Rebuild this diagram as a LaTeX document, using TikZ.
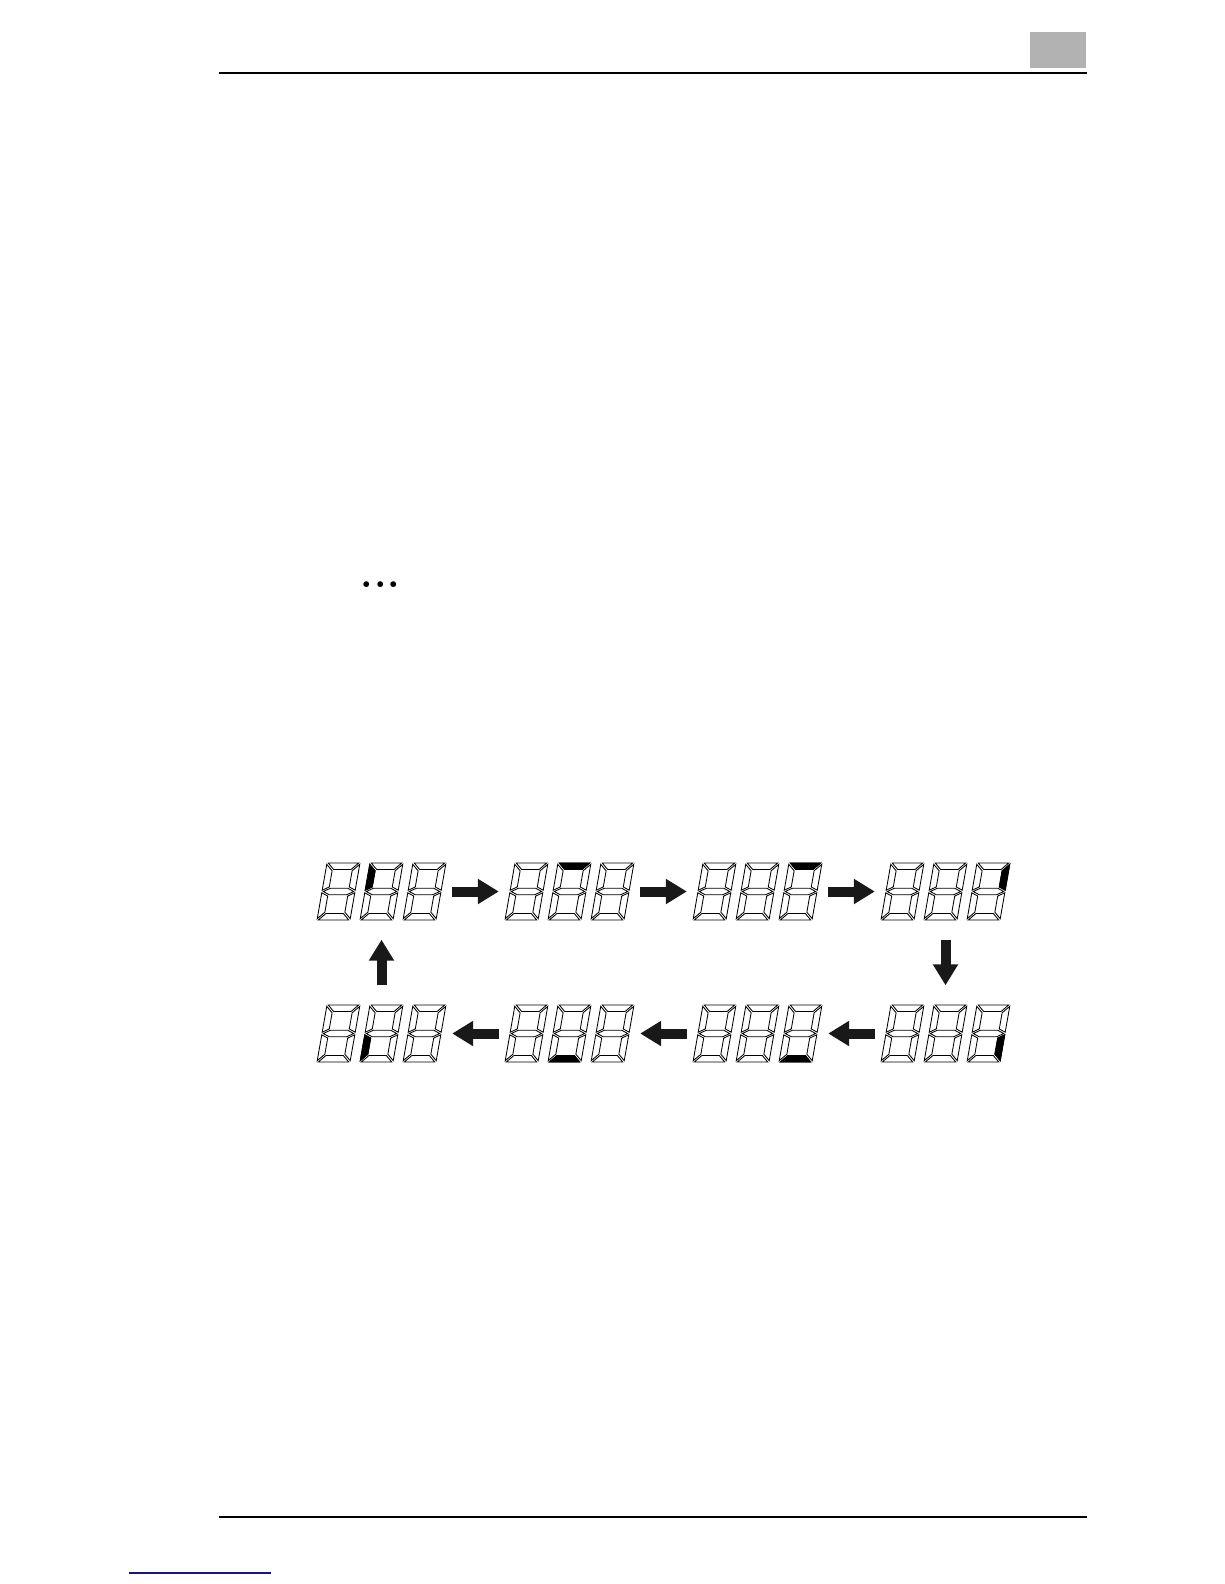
\documentclass[tikz,border=0pt]{standalone}
\usepackage{fontspec}
\usepackage{tikz}
\usetikzlibrary{arrows.meta}

% seven segment outlines, digit box 33 x 57, origin bottom left
\def\lcdsega{(1.3,57) -- (31.7,57) -- (25.2,50.5) -- (7.8,50.5) -- cycle}
\def\lcdsegb{(33,55.7) -- (33,29.8) -- (26.5,33.05) -- (26.5,49.2) -- cycle}
\def\lcdsegc{(33,27.2) -- (33,1.3) -- (26.5,7.8) -- (26.5,23.95) -- cycle}
\def\lcdsegd{(1.3,0) -- (31.7,0) -- (25.2,6.5) -- (7.8,6.5) -- cycle}
\def\lcdsege{(0,27.2) -- (0,1.3) -- (6.5,7.8) -- (6.5,23.95) -- cycle}
\def\lcdsegf{(0,55.7) -- (0,29.8) -- (6.5,33.05) -- (6.5,49.2) -- cycle}
\def\lcdsegg{(1.3,28.5) -- (7.8,31.75) -- (25.2,31.75) -- (31.7,28.5) -- (25.2,25.25) -- (7.8,25.25) -- cycle}
\def\lcdsegnone{(0,0)}

% #1 display node, #2 digit (0..2), #3 lit segment
\newcommand{\lcddigit}[3]{%
  \begin{scope}[shift={(#1.center)},shift={(-64.5+43*#2,28.5)},x=1pt,y=1pt,xslant=0.175]
    \foreach \s in {a,b,c,d,e,f,g} {%
      \expandafter\let\expandafter\segpath\csname lcdseg\s\endcsname
      \draw[seg] \segpath;}
    \expandafter\let\expandafter\segpath\csname lcdseg#3\endcsname
    \filldraw[seglit] \segpath;
  \end{scope}}

% #1 display node, #2 digit holding the lit segment (1..3), #3 segment
\newcommand{\lcdgroup}[3]{%
  \foreach \k in {0,1,2} {%
    \pgfmathtruncatemacro{\kk}{\k+1}%
    \ifnum\kk=#2 \def\litseg{#3}\else\def\litseg{none}\fi
    \lcddigit{#1}{\k}{\litseg}}}

\begin{document}
\begin{tikzpicture}[x=1pt,y=-1pt]
  \tikzstyle{disp}=[rectangle,inner sep=0pt,minimum width=141pt,minimum height=96pt]
  \tikzstyle{seg}=[draw=black,fill=white,line width=0.85pt,line join=miter]
  \tikzstyle{seglit}=[draw=black,fill=black,line width=0.85pt]
  \tikzstyle{blockarrow}=[draw=black!90,line width=10pt,-{Triangle[width=24pt,length=21pt]}]
  \tikzstyle{rule}=[draw=black,line width=1.4pt]
  \definecolor{tabgray}{RGB}{178,178,178}
  \definecolor{linkblue}{RGB}{20,20,130}
  \path[fill=white] (0,0) rectangle (1224,1584);
  \useasboundingbox (0,0) rectangle (1224,1584);
  % page furniture
  \fill[tabgray] (1030,32) rectangle (1086,68);
  \draw[rule] (219,73) -- (1087,73);
  \draw[rule] (219,1517) -- (1087,1517);
  \draw[linkblue,line width=1.2pt] (129,1573) -- (271,1573);
  \node [inner sep=0pt,font=\bfseries\fontsize{40}{40}\selectfont] (dots) at (380.5,585) {.\kern1pt.\kern1pt.};
  % displays
  \node [disp] (t1) at (381.5,891.5) {};
  \node [disp] (t2) at (569.5,891.5) {};
  \node [disp] (t3) at (757.5,891.5) {};
  \node [disp] (t4) at (945.5,891.5) {};
  \node [disp] (b1) at (381.5,1033.5) {};
  \node [disp] (b2) at (569.5,1033.5) {};
  \node [disp] (b3) at (757.5,1033.5) {};
  \node [disp] (b4) at (945.5,1033.5) {};
  \lcdgroup{t1}{2}{f}
  \lcdgroup{t2}{2}{a}
  \lcdgroup{t3}{3}{a}
  \lcdgroup{t4}{3}{b}
  \lcdgroup{b4}{3}{c}
  \lcdgroup{b3}{3}{d}
  \lcdgroup{b2}{2}{d}
  \lcdgroup{b1}{2}{e}
  % cycle
  \draw[blockarrow] (t1) -- (t2);
  \draw[blockarrow] (t2) -- (t3);
  \draw[blockarrow] (t3) -- (t4);
  \draw[blockarrow] (t4) -- (b4);
  \draw[blockarrow] (b4) -- (b3);
  \draw[blockarrow] (b3) -- (b2);
  \draw[blockarrow] (b2) -- (b1);
  \draw[blockarrow] (b1) -- (t1);
\end{tikzpicture}
\end{document}
